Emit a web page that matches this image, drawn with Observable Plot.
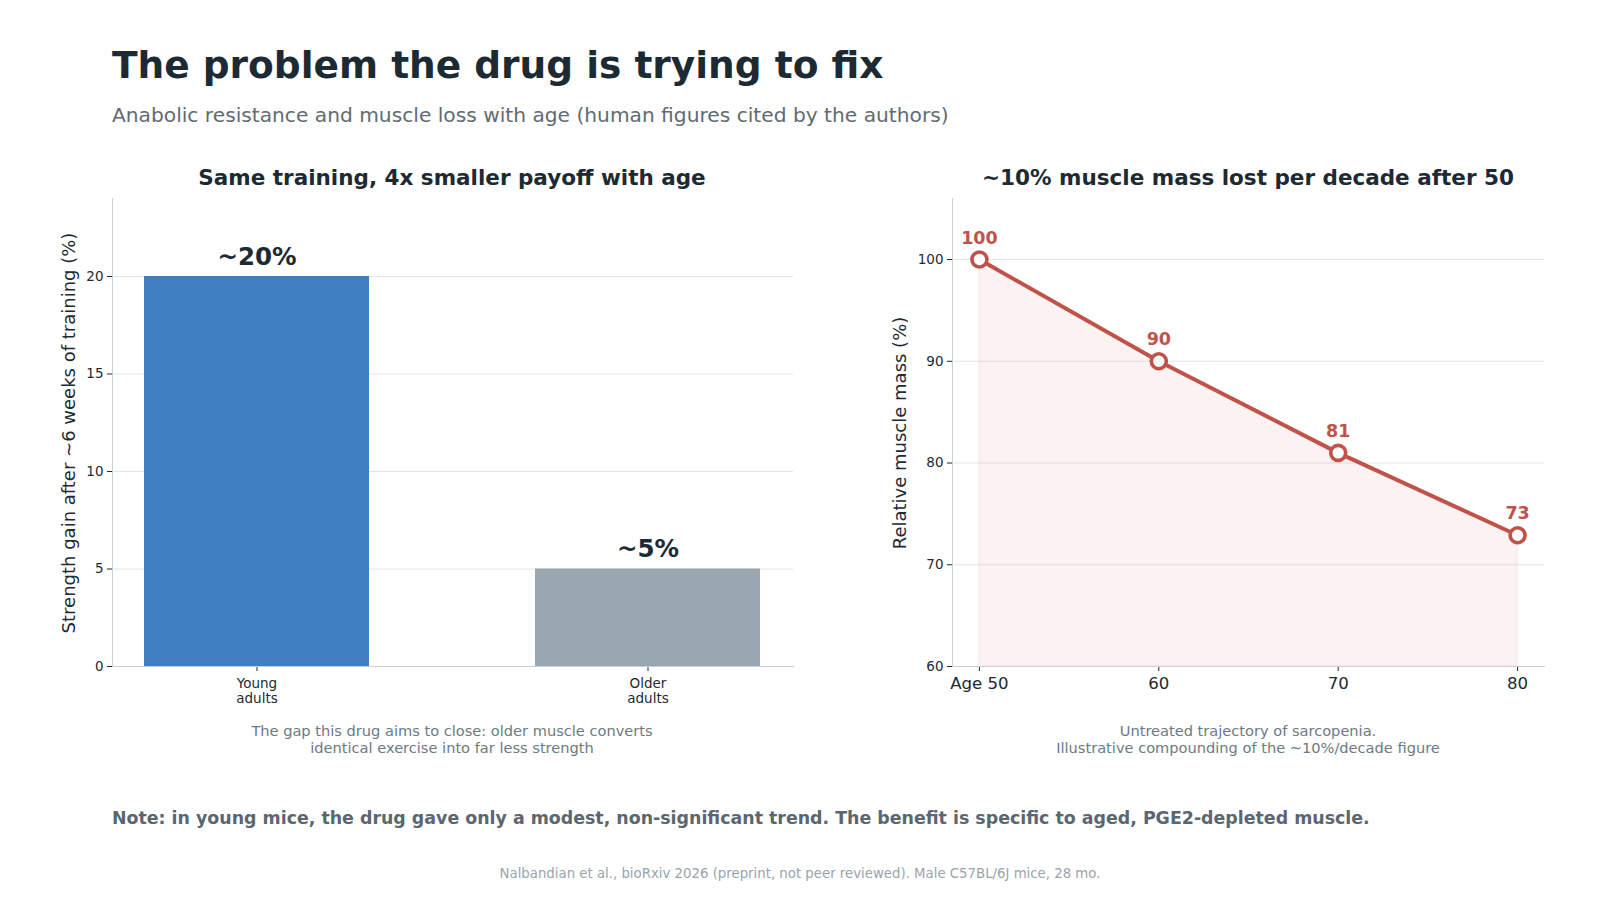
<!DOCTYPE html>
<html>
<head>
<meta charset="utf-8">
<script src="https://cdn.jsdelivr.net/npm/d3@7"></script>
<script src="https://cdn.jsdelivr.net/npm/@observablehq/plot@0.6"></script>
<style>
  html, body { margin: 0; padding: 0; background: #fff; }
  body { width: 1600px; height: 900px; position: relative; overflow: hidden; font-family: "DejaVu Sans", sans-serif; }
  .abs { position: absolute; white-space: nowrap; line-height: 1.17; }
  .title { left: 112px; top: 44px; font-size: 37.5px; font-weight: bold; color: #1c2a33; }
  .subtitle { left: 112px; top: 104px; font-size: 20.2px; color: #5f6b73; }
  .ptitle { font-size: 21.5px; font-weight: bold; color: #1c2a33; transform: translateX(-50%); top: 165px; }
  .ylab { font-size: 18px; color: #1c2a33; transform: translate(-50%, -50%) rotate(-90deg); }
  .cap { font-size: 14.6px; color: #6c7a84; text-align: center; transform: translateX(-50%); line-height: 17.4px; top: 722px; }
  .note { left: 112px; top: 808px; font-size: 17.4px; font-weight: bold; color: #5a6670; }
  .foot { left: 800px; top: 866px; font-size: 13.3px; color: #9aa3ab; transform: translateX(-50%); }
  #left, #right { position: absolute; top: 150px; }
  #left { left: 0px; }
  #right { left: 860px; }
</style>
</head>
<body>
<div class="abs title">The problem the drug is trying to fix</div>
<div class="abs subtitle">Anabolic resistance and muscle loss with age (human figures cited by the authors)</div>

<div class="abs ptitle" style="left:452px">Same training, 4x smaller payoff with age</div>
<div class="abs ptitle" style="left:1248px">~10% muscle mass lost per decade after 50</div>

<div class="abs ylab" style="left:69px; top:433px">Strength gain after ~6 weeks of training (%)</div>
<div class="abs ylab" style="left:900px; top:433px">Relative muscle mass (%)</div>

<div id="left"></div>
<div id="right"></div>

<div class="abs cap" style="left:452px">The gap this drug aims to close: older muscle converts<br>identical exercise into far less strength</div>
<div class="abs cap" style="left:1248px">Untreated trajectory of sarcopenia.<br>Illustrative compounding of the ~10%/decade figure</div>

<div class="abs note">Note: in young mice, the drug gave only a modest, non-significant trend. The benefit is specific to aged, PGE2-depleted muscle.</div>
<div class="abs foot">Nalbandian et al., bioRxiv 2026 (preprint, not peer reviewed). Male C57BL/6J mice, 28 mo.</div>

<script>
// ---- Data ----
const groups = ["Young\nadults", "Older\nadults"];
const gains = [20, 5];
const gainLabels = ["~20%", "~5%"];
const barColors = ["#3f7fbf", "#9ba7b0"];

const ages = [50, 60, 70, 80];
const mass = [100, 90, 81, 72.9];
const massLabels = ["100", "90", "81", "73"];
const ageTickLabels = ["Age 50", "60", "70", "80"];

const barData = groups.map((g, i) => ({group: g, gain: gains[i], label: gainLabels[i], color: barColors[i]}));
const lineData = ages.map((a, i) => ({age: a, mass: mass[i], label: massLabels[i]}));

const ink = "#1c2a33";
const spine = "#c8d0d8";
const grid = "#e1e4e8";
const red = "#c0524a";

// ---- Left: bar chart ----
const left = Plot.plot({
  width: 820,
  height: 571,
  marginLeft: 112,
  marginRight: 27,
  marginTop: 48,
  marginBottom: 55,
  style: {fontFamily: "DejaVu Sans, sans-serif", color: ink, background: "transparent"},
  x: {domain: groups, paddingInner: 0.4245, paddingOuter: 0.081, label: null},
  y: {domain: [0, 24], label: null},
  marks: [
    Plot.gridY([0, 5, 10, 15, 20], {stroke: grid, strokeOpacity: 1}),
    Plot.barY(barData, {x: "group", y: "gain", fill: "color"}),
    Plot.text(barData, {x: "group", y: "gain", text: "label", lineAnchor: "bottom", dy: -12, fontSize: 24.5, fontWeight: "bold", fill: ink}),
    Plot.axisY({ticks: [0, 5, 10, 15, 20], tickSize: 5, fontSize: 13.5, stroke: ink, fill: ink, label: null, tickPadding: 4}),
    Plot.axisX({tickSize: 5, fontSize: 13.5, stroke: ink, fill: ink, label: null, tickPadding: 5, lineHeight: 1.15}),
    Plot.frame({anchor: "left", stroke: spine}),
    Plot.frame({anchor: "bottom", stroke: spine})
  ]
});
document.getElementById("left").appendChild(left);

// ---- Right: line chart ----
const right = Plot.plot({
  width: 740,
  height: 571,
  marginLeft: 92,
  marginRight: 56,
  marginTop: 48,
  marginBottom: 55,
  style: {fontFamily: "DejaVu Sans, sans-serif", color: ink, background: "transparent"},
  x: {domain: [48.5, 81.5], label: null},
  y: {domain: [60, 106], label: null},
  marks: [
    Plot.gridY([60, 70, 80, 90, 100], {stroke: grid, strokeOpacity: 1}),
    Plot.areaY(lineData, {x: "age", y1: 60, y2: "mass", fill: red, fillOpacity: 0.07, stroke: red, strokeOpacity: 0.06, strokeWidth: 2}),
    Plot.line(lineData, {x: "age", y: "mass", stroke: red, strokeWidth: 4}),
    Plot.dot(lineData, {x: "age", y: "mass", r: 7.5, fill: "white", stroke: red, strokeWidth: 3.6}),
    Plot.text(lineData, {x: "age", y: "mass", text: "label", lineAnchor: "bottom", dy: -16, fontSize: 17.5, fontWeight: "bold", fill: red}),
    Plot.axisY({ticks: [60, 70, 80, 90, 100], tickSize: 5, fontSize: 13.5, stroke: ink, fill: ink, label: null, tickPadding: 4}),
    Plot.axisX({ticks: ages, tickFormat: (d) => ageTickLabels[ages.indexOf(d)], tickSize: 5, fontSize: 16.6, stroke: ink, fill: ink, label: null, tickPadding: 6}),
    Plot.frame({anchor: "left", stroke: spine}),
    Plot.frame({anchor: "bottom", stroke: spine})
  ]
});
document.getElementById("right").appendChild(right);
</script>
</body>
</html>
